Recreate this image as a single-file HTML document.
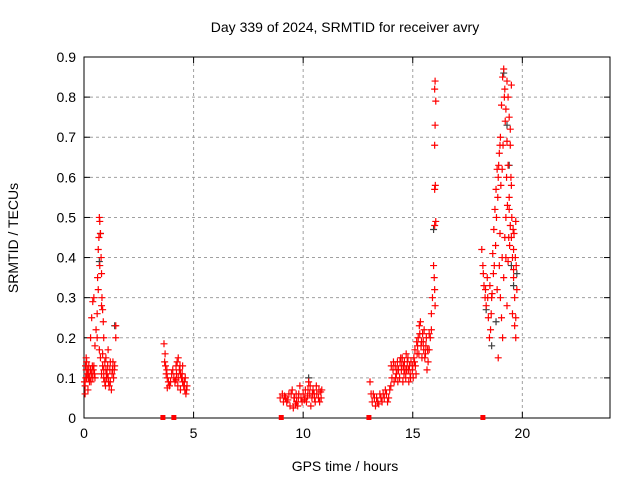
<!DOCTYPE html>
<html><head><meta charset="utf-8"><style>
body{margin:0;background:#fff}
svg text{font-family:"Liberation Sans",sans-serif;font-size:14px;fill:#000}
</style></head><body>
<svg id="chart" width="640" height="480">
<text x="345" y="32" text-anchor="middle">Day 339 of 2024, SRMTID for receiver avry</text>
<text x="345" y="471" text-anchor="middle">GPS time / hours</text>
<text transform="translate(18,238) rotate(-90)" text-anchor="middle">SRMTID / TECUs</text>
<g id="grid"></g><g id="axes"></g><g id="marks"></g>
</svg>
<script>
const xTicks=[0,5,10,15,20];
const yTicks=[0,0.1,0.2,0.3,0.4,0.5,0.6,0.7,0.8,0.9];
const redT=[0.05,0.05,0.08,0.1,0.12,0.15,0.2,0.25,0.3,0.35,0.4,0.45,0.5,0.1,0.18,0.22,0.3,0.35,0.4,0.45,0.5,0.55,0.6,0.62,0.65,0.68,0.7,0.72,0.75,0.78,0.8,0.82,0.85,0.88,0.9,0.7,0.75,0.8,0.85,0.9,0.95,1.0,1.05,1.1,1.15,1.0,1.1,1.2,1.3,1.35,1.4,1.45,1.45,1.2,1.25,0.6,0.65,0.72,0.8,0.85,
0.02,0.07,0.12,0.17,0.22,0.27,0.32,0.38,0.42,0.48,0.9,0.95,1.02,1.08,1.12,1.18,1.28,1.32,1.38,0.98,
3.65,3.7,3.72,3.75,3.8,3.85,3.9,3.95,4.0,4.05,4.1,4.15,4.2,4.25,4.3,4.35,4.4,4.45,4.5,4.55,4.6,4.65,4.7,4.5,4.4,4.3,4.2,3.8,
3.68,3.78,4.22,4.28,4.38,4.48,4.58,4.62,4.68,
8.95,9.05,9.1,9.2,9.3,9.4,9.45,9.5,9.6,9.65,9.7,9.8,9.85,9.9,10.0,10.05,10.1,10.2,10.25,10.3,10.4,10.45,10.5,10.6,10.7,10.8,10.85,9.55,9.75,10.15,10.35,10.55,10.75,
9.15,9.25,9.35,9.58,9.68,9.78,9.95,10.08,10.22,10.32,10.42,10.52,10.62,10.72,10.82,
13.05,13.1,13.15,13.25,13.3,13.4,13.5,13.55,13.6,13.7,13.75,13.8,13.9,14.0,14.05,14.1,14.2,14.25,14.3,14.35,14.4,14.5,14.55,14.6,14.7,14.75,14.8,14.9,15.0,15.05,15.1,15.2,15.25,15.3,15.35,15.4,15.5,15.55,15.6,15.7,15.75,15.8,15.85,15.9,15.95,15.98,16.0,16.02,15.85,16.0,16.05,16.0,16.03,16.0,16.02,16.05,16.0,16.02,14.15,14.45,14.65,13.85,14.85,15.15,15.45,15.65,15.75,
13.2,13.35,13.45,13.65,13.95,14.02,14.12,14.22,14.28,14.32,14.42,14.48,14.52,14.58,14.62,14.68,14.72,14.78,14.82,14.88,14.92,14.98,15.02,15.08,15.12,15.18,15.22,15.28,15.32,15.38,15.42,15.48,15.52,15.58,15.62,15.68,
18.15,18.2,18.25,18.3,18.35,18.4,18.45,18.5,18.55,18.6,18.65,18.7,18.75,18.8,18.85,18.9,18.95,19.0,19.05,19.1,19.15,19.2,19.25,19.3,19.35,19.4,19.45,19.5,19.55,19.6,19.65,19.7,19.75,19.7,19.6,19.5,19.45,19.4,19.35,19.3,19.5,19.45,19.0,19.05,19.1,19.15,19.2,19.25,19.3,18.95,18.85,18.9,19.25,19.35,19.4,19.6,19.65,19.7,19.55,
18.22,18.32,18.42,18.52,18.58,18.62,18.68,18.72,18.78,18.82,18.88,18.92,18.98,19.02,19.08,19.12,19.18,19.22,19.28,19.32,19.38,19.42,19.48,19.52,19.58,19.62,19.68,19.72,19.08,18.98];
const redV=[0.06,0.08,0.1,0.12,0.14,0.11,0.1,0.09,0.12,0.11,0.1,0.13,0.1,0.15,0.07,0.13,0.2,0.25,0.29,0.3,0.18,0.22,0.26,0.35,0.42,0.45,0.5,0.49,0.46,0.4,0.36,0.3,0.27,0.24,0.2,0.17,0.15,0.11,0.13,0.1,0.09,0.12,0.11,0.1,0.08,0.15,0.17,0.14,0.12,0.1,0.13,0.23,0.2,0.09,0.07,0.2,0.32,0.38,0.28,0.16,
0.09,0.13,0.1,0.12,0.11,0.1,0.09,0.13,0.12,0.11,0.12,0.14,0.1,0.13,0.09,0.12,0.11,0.14,0.12,0.08,
0.185,0.16,0.13,0.11,0.1,0.09,0.08,0.09,0.11,0.12,0.1,0.09,0.13,0.14,0.15,0.12,0.11,0.1,0.09,0.08,0.07,0.06,0.08,0.13,0.07,0.1,0.095,0.075,
0.14,0.12,0.11,0.08,0.13,0.11,0.09,0.1,0.07,
0.05,0.06,0.04,0.05,0.045,0.03,0.06,0.07,0.05,0.035,0.04,0.06,0.08,0.05,0.06,0.045,0.07,0.055,0.09,0.06,0.05,0.07,0.06,0.08,0.05,0.065,0.07,0.025,0.03,0.04,0.03,0.04,0.04,
0.055,0.04,0.06,0.05,0.06,0.05,0.04,0.05,0.07,0.08,0.06,0.05,0.06,0.07,0.05,
0.09,0.06,0.04,0.05,0.03,0.04,0.06,0.05,0.04,0.05,0.07,0.06,0.05,0.08,0.1,0.12,0.13,0.11,0.14,0.12,0.1,0.13,0.09,0.11,0.16,0.14,0.12,0.1,0.13,0.15,0.17,0.16,0.2,0.23,0.24,0.19,0.17,0.15,0.18,0.14,0.17,0.2,0.26,0.3,0.38,0.35,0.32,0.28,0.22,0.48,0.49,0.57,0.58,0.68,0.73,0.79,0.82,0.84,0.09,0.15,0.12,0.04,0.13,0.11,0.21,0.12,0.21,
0.06,0.05,0.035,0.06,0.07,0.13,0.14,0.1,0.12,0.09,0.14,0.12,0.15,0.13,0.14,0.1,0.12,0.15,0.09,0.11,0.14,0.12,0.1,0.14,0.13,0.19,0.18,0.16,0.21,0.18,0.15,0.19,0.22,0.16,0.2,0.17,
0.42,0.38,0.33,0.3,0.28,0.35,0.25,0.2,0.22,0.3,0.41,0.47,0.52,0.57,0.62,0.6,0.66,0.7,0.78,0.85,0.87,0.82,0.77,0.69,0.63,0.55,0.48,0.45,0.4,0.35,0.3,0.25,0.32,0.49,0.42,0.58,0.68,0.75,0.8,0.84,0.83,0.72,0.3,0.25,0.2,0.35,0.45,0.5,0.28,0.38,0.32,0.15,0.4,0.39,0.52,0.37,0.23,0.2,0.26,
0.36,0.32,0.3,0.33,0.26,0.31,0.36,0.38,0.43,0.5,0.55,0.63,0.68,0.58,0.62,0.68,0.8,0.74,0.6,0.53,0.45,0.43,0.6,0.5,0.47,0.46,0.4,0.38,0.4,0.46];
const grayT=[0.7,0.75,1.4,10.25,15.95,18.35,18.6,18.8,19.15,19.3,19.4,19.5,19.75,19.6];
const grayV=[0.39,0.46,0.23,0.1,0.47,0.27,0.18,0.24,0.86,0.73,0.63,0.38,0.36,0.33];
const gapT=[3.6,4.1,9.0,13.0,18.2];

const L=84,R=610,T=57,B=418;
const xs=t=>L+t/24*(R-L);
const ys=v=>B-v/0.9*(B-T);
const NS="http://www.w3.org/2000/svg";
function mk(tag,attrs,parent){const e=document.createElementNS(NS,tag);for(const k in attrs)e.setAttribute(k,attrs[k]);parent.appendChild(e);return e;}
const grid=document.getElementById('grid'),axes=document.getElementById('axes'),marks=document.getElementById('marks');
xTicks.forEach(t=>{const x=xs(t);
 if(t>0){const g=mk('line',{x1:x,x2:x,y1:T,y2:B,stroke:'#a0a0a0','stroke-dasharray':'3,3'},grid);
 
 }
 mk('line',{x1:x,x2:x,y1:B,y2:B-6,stroke:'#000'},axes);
 mk('line',{x1:x,x2:x,y1:T,y2:T+6,stroke:'#000'},axes);
 const lb=mk('text',{x:x,y:B+20,'text-anchor':'middle'},axes);lb.textContent=t;
 
 
});
yTicks.forEach(v=>{const y=ys(v);
 if(v>0&&v<0.9){const g=mk('line',{x1:L,x2:R,y1:y,y2:y,stroke:'#a0a0a0','stroke-dasharray':'3,3'},grid);
 
 }
 mk('line',{x1:L,x2:L+6,y1:y,y2:y,stroke:'#000'},axes);
 mk('line',{x1:R,x2:R-6,y1:y,y2:y,stroke:'#000'},axes);
 const lb=mk('text',{x:L-8,y:y+5,'text-anchor':'end'},axes);lb.textContent=String(Math.round(v*10)/10);
 
 
});
const frame=mk('rect',{x:L,y:T,width:R-L,height:B-T,fill:'none',stroke:'#000'},axes);


function plus(t,v,col,name){const x=xs(t),y=ys(v);
 const p=mk('path',{d:`M${x-3.5},${y}H${x+3.5}M${x},${y-3.5}V${y+3.5}`,stroke:col,'stroke-width':1.2,fill:'none'},marks);
 
 }
grayT.forEach((t,i)=>plus(t,grayV[i],'#404040','gray-point'));
redT.forEach((t,i)=>plus(t,redV[i],'#ff0000','red-point'));
gapT.forEach(t=>{const r=mk('rect',{x:xs(t)-2.5,y:ys(0)-3,width:5,height:5,fill:'#ff0000'},marks);
 
 });
</script>
</body></html>
